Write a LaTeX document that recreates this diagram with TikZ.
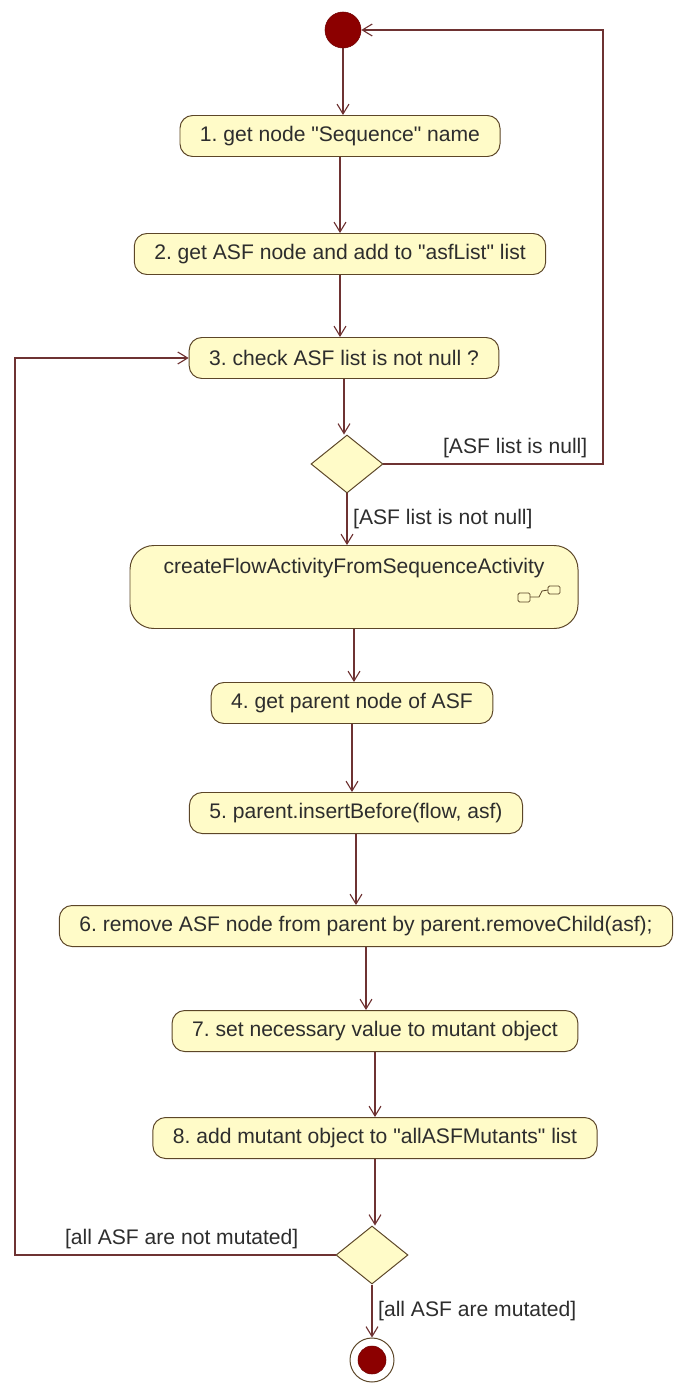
\documentclass[tikz,border=0pt]{standalone}
\usepackage{fontspec}
\setmainfont{Liberation Sans}
\usepackage{xcolor}
\usepackage{tikz}
\usetikzlibrary{positioning}
\usetikzlibrary{arrows.meta,shapes.geometric}
\definecolor{actfill}{RGB}{255,251,200}
\definecolor{actdraw}{RGB}{92,70,40}
\definecolor{flowline}{RGB}{110,50,50}
\definecolor{dotred}{RGB}{140,0,0}
\definecolor{textgray}{RGB}{45,45,45}
\newcommand{\qq}{\textquotedbl}
\tikzstyle{action}=[rectangle,rounded corners=9pt,draw=actdraw,fill=actfill,line width=0.7pt,text=textgray,inner xsep=20*\u,minimum height=41*\u,font=\fontsize{15}{17}\selectfont]
\tikzstyle{callact}=[rounded corners=17pt,inner ysep=0pt,text height=28*\u,text depth=55*\u]
\tikzstyle{decision}=[diamond,draw=actdraw,fill=actfill,line width=0.7pt,inner sep=0pt,minimum width=72*\u,minimum height=58*\u]
\tikzstyle{startdot}=[circle,fill=dotred,draw=dotred!80!black,inner sep=0pt,minimum size=36*\u]
\tikzstyle{endring}=[circle,fill=white,draw=actdraw,line width=0.7pt,inner sep=0pt,minimum size=44*\u]
\tikzstyle{edge} = [draw,flowline,line width=0.8pt,-{Straight Barb[length=7pt,width=8.5pt]}]
\tikzset{guard/.style={text=textgray,inner sep=4pt,font=\fontsize{15}{17}\selectfont}}

\begin{document}
\frenchspacing
\begin{tikzpicture}[x=0.025cm,y=-0.025cm]
 \def\u{0.025cm}
 \useasboundingbox (0,0) rectangle (678,1385);

 %start
 \node[startdot] (start) at (343,30) {};

 %actions
 \foreach \x/\y/\name/\label in {340/136/n1/{1. get node \qq Sequence\qq{} name},
          340/254/n2/{2. get ASF node and add to \qq asfList\qq{} list},
          344/358/n3/{3. check ASF list is not null ?},
          352/703/n4/{4. get parent node of ASF},
          356/813/n5/{5. parent.insertBefore(flow, asf)},
          366/926/n6/{6. remove ASF node from parent by parent.removeChild(asf);},
          375/1031/n7/{7. set necessary value to mutant object},
          375/1138/n8/{8. add mutant object to \qq allASFMutants\qq{} list}}
          \node[action] (\name) at (\x,\y) {\label};

 %call behaviour
 \node[action, callact, minimum width=448*\u] (flow) at (354,587) {createFlowActivityFromSequenceActivity};
 \draw[actdraw, line width=0.6pt, rounded corners=1pt] (518,593) rectangle (530,602);
 \draw[actdraw, line width=0.6pt, rounded corners=1pt] (548,586) rectangle (560,594);
 \draw[actdraw, line width=0.6pt] (530,597) -- (539,597) -- (542,591) -- (548,590);

 %decisions
 \node[decision] (d1) at (347,464) {};
 \node[decision] (d2) at (372,1255) {};

 %end
 \node[endring] (stop) at (372,1360) {};
 \node[startdot, minimum size=28*\u] (stopdot) at (stop) {};

 %corners of the back flows
 \coordinate (nullturn) at (603,30);
 \coordinate (loopturn) at (15,1255);

 \foreach \source/ \dest in {start/n1, n1/n2, n2/n3, n3/d1, flow/n4, n4/n5, n5/n6, n6/n7, n7/n8, n8/d2}
         \path[edge] (\source) -- (\source |- \dest.north);

 \path[edge] (d1) -- node[guard, right] {[ASF list is not null]} (d1 |- flow.north);
 \path[edge] (d2) -- node[guard, right] {[all ASF are mutated]} (stop);

 \path[edge] (d1.east) -- node[guard, above, pos=0.6] {[ASF list is null]} (d1.east -| nullturn) |- (start);
 \path[edge] (d2.west) -- node[guard, above, pos=0.48] {[all ASF are not mutated]} (loopturn) |- (n3.west);

\end{tikzpicture}
\end{document}
